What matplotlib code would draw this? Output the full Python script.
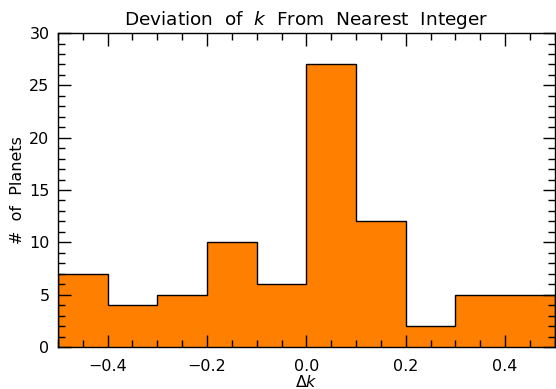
import numpy as np
import matplotlib
matplotlib.use("Agg")
import matplotlib.pyplot as plt
from matplotlib.ticker import MultipleLocator

# histogram of delta k, bins of 0.1 from -0.5 to 0.5
bin_edges = [-0.5, -0.4, -0.3, -0.2, -0.1, 0.0, 0.1, 0.2, 0.3, 0.4, 0.5]
counts = [7, 4, 5, 10, 6, 27, 12, 2, 5, 5]

fig = plt.figure(figsize=(5.56, 3.89), dpi=100)
ax = fig.add_axes([0.104, 0.108, 0.894, 0.807])

ax.stairs(counts, bin_edges, fill=True, color='#FF8000', zorder=1)
ax.stairs(counts, bin_edges, fill=False, color='black', lw=1.0, zorder=2)

ax.set_xlim(-0.5, 0.5)
ax.set_ylim(0, 30)
ax.xaxis.set_major_locator(MultipleLocator(0.2))
ax.xaxis.set_minor_locator(MultipleLocator(0.05))
ax.yaxis.set_major_locator(MultipleLocator(5))
ax.yaxis.set_minor_locator(MultipleLocator(1))
ax.tick_params(which='both', direction='in', top=True, right=True,
               labelsize=11.5, width=1.0)
ax.tick_params(which='major', length=9)
ax.tick_params(which='minor', length=5)
ax.tick_params(axis='x', pad=9)
ax.tick_params(axis='y', pad=6)
for s in ax.spines.values():
    s.set_linewidth(1.0)
    s.set_zorder(3)

ax.set_title('Deviation  of  $k$  From  Nearest  Integer', fontsize=13.3, pad=6)
ax.set_xlabel(r'$\Delta k$', fontsize=11.5, labelpad=0)
ax.set_ylabel('#  of  Planets', fontsize=11.5)
ax.yaxis.set_label_coords(-0.066, 0.5)

fig.savefig('out.png', dpi=100)
